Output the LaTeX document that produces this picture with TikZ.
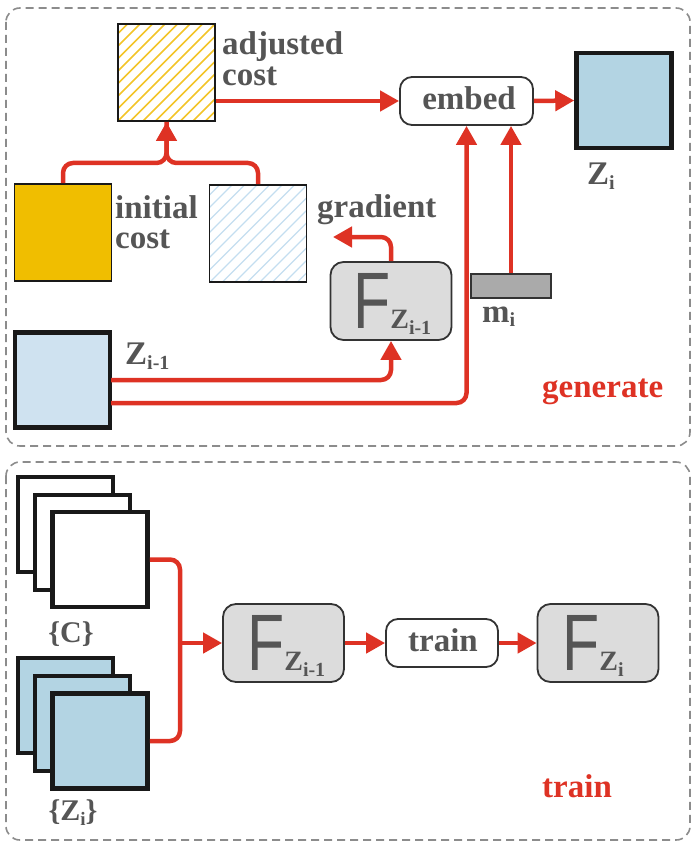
\documentclass[tikz,border=0pt]{standalone}
\usepackage{fontspec}
\setmainfont{Liberation Serif}
\newfontfamily\fsans{Liberation Sans}
\usetikzlibrary{arrows.meta}

\definecolor{flowred}{RGB}{222,50,36}
\definecolor{txtgray}{RGB}{85,85,85}
\definecolor{framegray}{RGB}{140,140,140}
\definecolor{costgold}{RGB}{240,190,0}
\definecolor{hatchgold}{RGB}{243,196,40}
\definecolor{hatchblue}{RGB}{196,222,240}
\definecolor{zblue}{RGB}{179,212,227}
\definecolor{zpale}{RGB}{207,226,240}
\definecolor{boxgray}{RGB}{220,220,220}
\definecolor{bargray}{RGB}{170,170,170}
\definecolor{edgegray}{RGB}{51,51,51}

\tikzset{
  frame/.style={draw=framegray, line width=1.6pt, dash pattern=on 8pt off 5pt, rounded corners=14pt},
  thinsq/.style={draw=black!90, line width=1.8pt, minimum width=97pt, minimum height=97pt, inner sep=0pt},
  thicksq/.style={draw=black!90, line width=4.5pt, minimum width=95pt, minimum height=95pt, inner sep=0pt},
  pill/.style={draw=edgegray, line width=1.8pt, rounded corners=12pt, fill=white, inner sep=0pt},
  fbox/.style={draw=edgegray, line width=1.8pt, rounded corners=13pt, fill=boxgray,
               minimum width=121pt, minimum height=78pt, inner sep=0pt},
  conn/.style={draw=flowred, line width=4.5pt, rounded corners=10pt,
               -{Triangle[length=19pt,width=20pt]}},
  plain/.style={draw=flowred, line width=4.5pt, rounded corners=10pt},
  lbl/.style={text=txtgray, inner sep=0pt, font=\fontsize{33}{33}\selectfont\bfseries},
  redlbl/.style={text=flowred, inner sep=0pt, font=\fontsize{33}{33}\selectfont\bfseries},
  bigf/.style={text=txtgray, inner sep=0pt, anchor=base west},
}
\newcommand{\bigF}[1]{{\fsans\fontsize{80}{80}\selectfont\scalebox{0.76}[1]{F}}{\fontsize{28}{28}\selectfont\bfseries Z\raisebox{-6pt}{\fontsize{20}{20}\selectfont #1}}}

\begin{document}
\begin{tikzpicture}[x=1pt, y=-1pt]
\useasboundingbox (0,0) rectangle (693,845);

% section frames
\draw[frame] (6,8) rectangle (690,446);
\draw[frame] (6,462) rectangle (690,840);

% ---------- generate section ----------
\node[thinsq] (ac) at (166.5,72.5) {};
\begin{scope}
  \clip (118,24) rectangle (215,121);
  \foreach \k in {-8,...,8}
    \draw[hatchgold, line width=1.5pt] (118+12.5*\k,121) -- ++(97,-97);
\end{scope}
\node[thinsq] at (ac) {};

\node[thinsq, fill=costgold] (ic) at (63,232.5) {};

\node[thinsq] (gr) at (258,233.5) {};
\begin{scope}
  \clip (210,185) rectangle (306,282);
  \foreach \k in {-8,...,8}
    \draw[hatchblue, line width=1.4pt] (210+12.5*\k,282) -- ++(97,-97);
\end{scope}
\node[thinsq] at (gr) {};

\node[pill, minimum width=133pt, minimum height=48pt] (embed) at (466.5,101) {};
\node[lbl] (embedtxt) at (469,98) {embed};

\node[thicksq, fill=zblue] (zi) at (624,100.5) {};
\node[fbox] (fz1) at (391,301) {};
\node[bigf] (fz1txt) at (353,328) {\bigF{i-1}};

\node[draw=edgegray, line width=1.5pt, fill=bargray, minimum width=80pt, minimum height=24pt, inner sep=0pt] (mi) at (511,286) {};

\node[thicksq, fill=zpale] (zprev) at (62.5,380) {};

% labels
\node[lbl, anchor=base west] (lac1) at (222,55) {adjusted};
\node[lbl, anchor=base west] (lac2) at (222,86) {cost};
\node[lbl, anchor=base west] (lic1) at (115,218) {initial};
\node[lbl, anchor=base west] (lic2) at (115,248) {cost};
\node[lbl, anchor=base west] (lgr) at (317,217) {gradient};
\node[lbl, anchor=base west] (lzi) at (587,185) {Z\raisebox{-5pt}{\fontsize{20}{20}\selectfont i}};
\node[lbl, anchor=base west] (lzp) at (125,364) {Z\raisebox{-5pt}{\fontsize{20}{20}\selectfont i-1}};
\node[lbl, anchor=base west] (lmi) at (482,322) {m\raisebox{-4pt}{\fontsize{20}{20}\selectfont i}};
\node[redlbl, anchor=base west] (lgen) at (542,397) {generate};

% connectors
\coordinate (gradtip) at (333,237);
\draw[plain] (ic.north) |- (166.5,163) -- (ac.south);
\draw[conn] (gr.north) |- (166.5,163) -- (ac.south);
\draw[conn] (ac.east |- embed.west) -- (embed.west);
\draw[conn] (embed.east) -- (zi.west);
\draw[conn] (fz1.north) |- (gradtip);
\draw[conn] (mi.north) -- (mi.north |- embed.south);
\draw[conn] (111,380) -| (fz1.south);
\draw[conn] (111,403) -| (embed.south);

% ---------- train section ----------
\node[thicksq, fill=white] (c1) at (65.5,524.5) {};
\node[thicksq, fill=white] (c2) at (82.5,542.5) {};
\node[thicksq, fill=white] (c3) at (100,559.5) {};
\node[thicksq, fill=zblue] (z1) at (65.5,705.5) {};
\node[thicksq, fill=zblue] (z2) at (82.5,723.5) {};
\node[thicksq, fill=zblue] (z3) at (100,741) {};

\node[lbl, anchor=base] (lc) at (71,642) {\fontsize{30}{30}\selectfont\{C\}};
\node[lbl, anchor=base] (lz) at (73,820) {\fontsize{30}{30}\selectfont\{Z\raisebox{-5pt}{\fontsize{19}{19}\selectfont i}\}};

\node[fbox] (fb1) at (283.5,643) {};
\node[bigf] (fb1txt) at (247,670) {\bigF{i-1}};
\node[pill, minimum width=112pt, minimum height=48pt] (train) at (442,643) {};
\node[lbl] (traintxt) at (443,640) {train};
\node[fbox] (fb2) at (598,643) {};
\node[bigf] (fb2txt) at (562,670) {\bigF{i}};

\node[redlbl, anchor=base west] (ltrain) at (542,797) {train};

\coordinate (merge) at (180,643);
\draw[plain] (c3.east) -| (merge);
\draw[plain] (z3.east) -| (merge);
\draw[conn] (merge) -- (fb1.west);
\draw[conn] (fb1.east) -- (train.west);
\draw[conn] (train.east) -- (fb2.west);
\end{tikzpicture}
\end{document}
